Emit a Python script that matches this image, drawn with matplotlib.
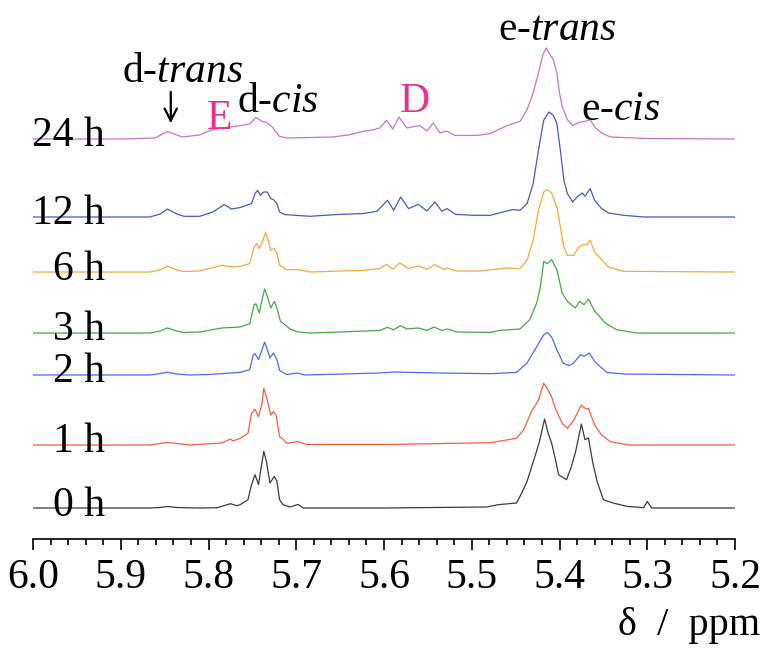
import numpy as np
import matplotlib
matplotlib.use("Agg")
import matplotlib.pyplot as plt
from matplotlib.ticker import MultipleLocator

plt.rcParams['font.family'] = ['Liberation Serif', 'DejaVu Serif']
plt.rcParams['mathtext.fontset'] = 'custom'
plt.rcParams['mathtext.rm'] = 'Liberation Serif'
plt.rcParams['mathtext.it'] = 'Liberation Serif:italic'

# spectra: chemical shift (ppm) and intensity (a.u.)
ppm_0h = [6.000, 5.867, 5.855, 5.847, 5.836, 5.810, 5.790, 5.775, 5.768, 5.764, 5.755, 5.751, 5.747, 5.743,
          5.741, 5.737, 5.734, 5.730, 5.725, 5.722, 5.719, 5.715, 5.707, 5.698, 5.692, 5.600, 5.483, 5.470,
          5.449, 5.443, 5.437, 5.428, 5.423, 5.417, 5.413, 5.409, 5.405, 5.401, 5.392, 5.387, 5.382, 5.375,
          5.371, 5.367, 5.362, 5.357, 5.350, 5.339, 5.323, 5.304, 5.300, 5.295, 5.200]
int_0h = [0, 0, 0.5, 1.5, 0.5, 0, 0.3, 4.3, 2.3, 3.3, 8.3, 23.3, 33.3, 23.3,
          35, 56.6, 46.6, 25, 31.6, 26.6, 8.3, 3.3, 1, 3.6, 0, 0, 1, 3.3,
          5, 15, 26.6, 51.6, 66, 89, 75, 65, 50, 33.3, 28.3, 40, 55, 84,
          68.3, 70, 45, 26, 8.3, 5, 1.6, 0.3, 6.6, 0, 0]

ppm_1h = [6.000, 5.867, 5.855, 5.847, 5.836, 5.821, 5.810, 5.785, 5.775, 5.772, 5.764, 5.755, 5.751, 5.747,
          5.743, 5.739, 5.737, 5.734, 5.729, 5.726, 5.723, 5.719, 5.715, 5.711, 5.698, 5.688, 5.600, 5.479,
          5.449, 5.441, 5.432, 5.424, 5.418, 5.414, 5.409, 5.405, 5.397, 5.391, 5.384, 5.377, 5.375, 5.370,
          5.367, 5.360, 5.352, 5.342, 5.320, 5.200]
int_1h = [0, 0, 1.5, 2.7, 1.5, 0, 0.7, 2, 6, 4, 6.7, 11.7, 31.7, 35.7,
          28.3, 41.7, 56.7, 48.3, 30, 33.3, 30, 8.3, 5.7, 1.7, 3.5, 0.5, 0.5, 2.3,
          6.7, 15, 33.3, 45, 61.7, 56.7, 48.3, 37, 21.7, 16.7, 24.3, 37, 40, 36,
          36.7, 20, 10, 3.3, 0, 0]

ppm_2h = [6.000, 5.867, 5.855, 5.847, 5.836, 5.821, 5.800, 5.764, 5.753, 5.749, 5.747, 5.743, 5.739, 5.736,
          5.733, 5.730, 5.726, 5.722, 5.719, 5.711, 5.699, 5.690, 5.605, 5.589, 5.536, 5.479, 5.449, 5.437,
          5.428, 5.418, 5.414, 5.409, 5.403, 5.396, 5.389, 5.384, 5.376, 5.372, 5.366, 5.360, 5.354, 5.346,
          5.327, 5.200]
int_2h = [0, 0, 1.5, 2.7, 1, 0, 0.5, 2.6, 5.3, 20.3, 21.3, 15.3, 25.3, 33,
          25.3, 17, 22, 15.3, 4.6, 0.5, 2, 0, 2, 3, 2, 1.3, 2.6, 12,
          25.3, 40.3, 42.6, 38, 25.3, 12, 9.3, 12, 20.3, 18.6, 22, 13.6, 8.6, 2.6,
          1, 0]

ppm_3h = [6.000, 5.867, 5.855, 5.847, 5.836, 5.828, 5.810, 5.785, 5.764, 5.753, 5.748, 5.746, 5.742, 5.739,
          5.736, 5.733, 5.729, 5.725, 5.722, 5.718, 5.713, 5.707, 5.698, 5.684, 5.650, 5.605, 5.596, 5.589,
          5.581, 5.574, 5.561, 5.551, 5.543, 5.534, 5.528, 5.517, 5.479, 5.468, 5.445, 5.434, 5.426, 5.422,
          5.418, 5.414, 5.409, 5.403, 5.397, 5.391, 5.382, 5.377, 5.372, 5.367, 5.360, 5.356, 5.348, 5.335,
          5.312, 5.200]
int_3h = [0, 0, 2, 5, 2, 0.5, 1, 5, 6, 9.3, 28.3, 29.3, 20, 33.3,
          44, 36.6, 25, 31.6, 25, 11.6, 8.3, 4, 1, 0, 1, 2.6, 5.6, 3.3,
          7.3, 4, 5, 2.6, 6, 2.6, 4, 1, 0.6, 2.6, 4, 13.3, 30, 45,
          71.6, 69.3, 73.3, 63.3, 40, 31.6, 25, 31.6, 28.3, 34, 22, 18.3, 10, 3.3,
          0, 0]

ppm_6h = [6.000, 5.867, 5.855, 5.847, 5.836, 5.828, 5.810, 5.785, 5.772, 5.764, 5.753, 5.748, 5.745, 5.742,
          5.738, 5.735, 5.732, 5.729, 5.725, 5.722, 5.719, 5.711, 5.698, 5.684, 5.624, 5.605, 5.597, 5.590,
          5.582, 5.572, 5.561, 5.551, 5.542, 5.532, 5.528, 5.517, 5.491, 5.460, 5.445, 5.437, 5.430, 5.424,
          5.418, 5.414, 5.409, 5.403, 5.399, 5.395, 5.391, 5.384, 5.378, 5.372, 5.369, 5.365, 5.360, 5.352,
          5.344, 5.327, 5.200]
int_6h = [0, 0, 2, 6, 2, 0.5, 1, 6.7, 5, 5.7, 8.4, 25, 28.4, 23.4,
          31.7, 39.4, 31.7, 21.7, 23.4, 19, 6.7, 2.4, 2.4, 0, 1.7, 3.4, 7.7, 2.7,
          9, 3.4, 6, 2.7, 7.4, 2.7, 4, 1, 1, 4, 3.4, 11.7, 31.7, 61.7,
          80, 82.4, 79, 65, 45, 25, 16.7, 16.7, 25, 27.7, 27, 31.7, 20, 12.4,
          5, 0.7, 0]

ppm_12h = [6.000, 5.867, 5.855, 5.847, 5.836, 5.828, 5.810, 5.795, 5.782, 5.774, 5.764, 5.751, 5.747, 5.744,
           5.741, 5.737, 5.733, 5.729, 5.726, 5.722, 5.719, 5.713, 5.684, 5.650, 5.624, 5.608, 5.596, 5.589,
           5.581, 5.572, 5.561, 5.551, 5.542, 5.534, 5.528, 5.519, 5.498, 5.479, 5.460, 5.453, 5.445, 5.437,
           5.430, 5.424, 5.418, 5.412, 5.407, 5.403, 5.399, 5.395, 5.391, 5.385, 5.380, 5.374, 5.371, 5.365,
           5.360, 5.352, 5.344, 5.327, 5.304, 5.200]
int_12h = [0, 0, 3, 8, 3, 0.7, 0.7, 5, 12.4, 8, 9.4, 13.4, 23.4, 26.7,
           21.7, 25, 25, 18.4, 17.4, 13.4, 5, 2.4, 0.7, 2.7, 3.4, 5.7, 16.7, 6.7,
           20, 8.4, 12.7, 6, 15, 5.7, 8.4, 2.7, 1.7, 1.7, 6, 7.4, 6.7, 13.4,
           33.4, 66.7, 96.7, 105, 101.7, 93.4, 66.7, 36.7, 23.4, 15, 20, 24, 20.7, 28.4,
           16.7, 8.4, 4, 1.7, 0, 0]

ppm_24h = [6.000, 5.897, 5.861, 5.847, 5.830, 5.810, 5.798, 5.785, 5.770, 5.753, 5.746, 5.739, 5.734, 5.728,
           5.719, 5.711, 5.658, 5.639, 5.624, 5.612, 5.605, 5.597, 5.590, 5.583, 5.574, 5.565, 5.559, 5.551,
           5.544, 5.536, 5.529, 5.519, 5.494, 5.479, 5.460, 5.445, 5.437, 5.430, 5.424, 5.419, 5.415, 5.412,
           5.407, 5.403, 5.400, 5.397, 5.391, 5.385, 5.378, 5.371, 5.365, 5.360, 5.352, 5.342, 5.300, 5.200]
int_24h = [0, 0, 1, 7.5, 2, 4, 8.6, 11, 12.5, 15, 21.6, 17.6, 16.6, 12.6,
           2.6, 1, 2, 4.3, 7.6, 9.3, 11, 18.6, 10, 22, 11, 12.6, 13.3, 8,
           16, 6, 8, 3.5, 3.6, 5.5, 13.3, 17.6, 29.3, 46, 66, 84.3, 91, 86,
           79.3, 66, 46, 32.6, 19.3, 13.3, 16.6, 17.6, 19.3, 12, 6, 2, 0.5, 0]

labels = ['0 h', '1 h', '2 h', '3 h', '6 h', '12 h', '24 h']
offsets = [31, 94, 164, 206, 267, 322, 400]
colors = ['#3c3c3c', '#f2603f', '#4a6cf0', '#45a845', '#f5a83c', '#4a58c0', '#c474cc']

spectra = [(ppm_0h, int_0h), (ppm_1h, int_1h), (ppm_2h, int_2h), (ppm_3h, int_3h),
           (ppm_6h, int_6h), (ppm_12h, int_12h), (ppm_24h, int_24h)]

fig = plt.figure(figsize=(7.64, 6.56), dpi=100)
ax = fig.add_axes([33 / 764, 117 / 656, 702 / 764, 539 / 656])

for (p, i), off, c, lab in zip(spectra, offsets, colors, labels):
    ax.plot(p, np.array(i) + off, color=c, lw=0.9)
    ax.text(5.918, off - 7.5, lab, ha='right', va='baseline', fontsize=30)

# peak labels
pink = '#e8308c'
ax.text(5.830, 457, 'd-$\\it{trans}$', ha='center', va='baseline', fontsize=30)
ax.annotate('', xy=(5.843, 413), xytext=(5.843, 450),
            arrowprops=dict(arrowstyle='->', color='black', lw=1.6, mutation_scale=22))
ax.text(5.787, 410, 'E', ha='center', va='baseline', fontsize=30, color=pink)
ax.text(5.768, 427, 'd-$\\it{cis}$', ha='left', va='baseline', fontsize=30)
ax.text(5.565, 427, 'D', ha='center', va='baseline', fontsize=30, color=pink)
ax.text(5.402, 499, 'e-$\\it{trans}$', ha='center', va='baseline', fontsize=30)
ax.text(5.330, 419, 'e-$\\it{cis}$', ha='center', va='baseline', fontsize=30)

ax.set_xlim(6.0, 5.2)
ax.set_ylim(0, 539)
ax.xaxis.set_major_locator(MultipleLocator(0.1))
ax.xaxis.set_minor_locator(MultipleLocator(0.02))
ax.xaxis.set_major_formatter(plt.FuncFormatter(lambda v, pos: f'{v:.1f}'))
ax.tick_params(axis='x', which='major', direction='out', length=8, width=1.2, pad=6, labelsize=30)
ax.tick_params(axis='x', which='minor', direction='out', length=4.5, width=1.2)
ax.set_yticks([])
for s in ['top', 'left', 'right']:
    ax.spines[s].set_visible(False)
ax.spines['bottom'].set_linewidth(1.2)

fig.text(0.995, 0.032, 'δ  /  ppm', ha='right', va='baseline', fontsize=29)

plt.savefig('out.png', dpi=100)
plt.close()
